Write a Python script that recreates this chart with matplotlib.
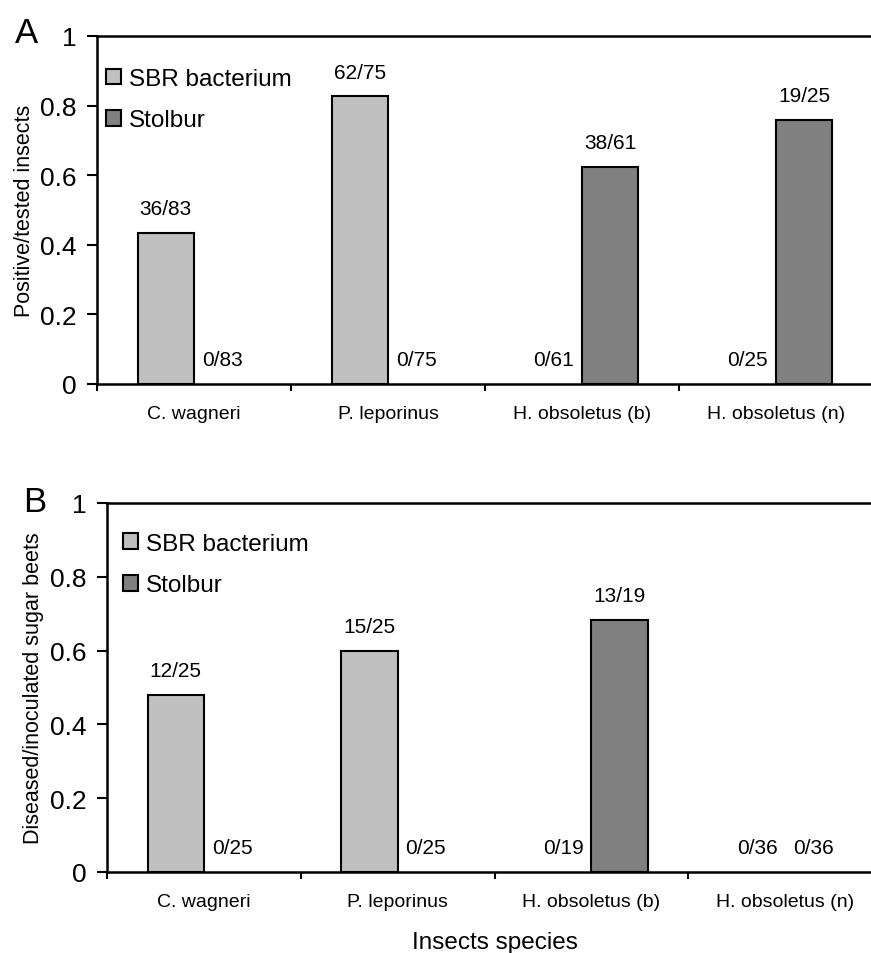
import numpy as np
import matplotlib
matplotlib.use("Agg")
import matplotlib.pyplot as plt
from matplotlib.patches import Patch

plt.rcParams['font.family'] = ['Liberation Sans', 'DejaVu Sans']

categories = ['C. wagneri', 'P. leporinus', 'H. obsoletus (b)', 'H. obsoletus (n)']

# panel A: positive / tested insects
a_tested = [83, 75, 61, 25]
a_sbr_pos = [36, 62, 0, 0]
a_stol_pos = [0, 0, 38, 19]

# panel B: diseased / inoculated sugar beets
b_inoculated = [25, 25, 19, 36]
b_sbr_pos = [12, 15, 0, 0]
b_stol_pos = [0, 0, 13, 0]

yticks = [0, 0.2, 0.4, 0.6, 0.8, 1]
ytick_labels = ['0', '0.2', '0.4', '0.6', '0.8', '1']

sbr_color = '#c0c0c0'
stol_color = '#808080'
width = 0.29

fig = plt.figure(figsize=(8.71, 9.54), dpi=100)
fig.patch.set_facecolor('white')


def draw_panel(ax, sbr_pos, stol_pos, totals, ylabel, legend_anchor):
    x = np.arange(len(categories))
    sbr = np.array(sbr_pos) / np.array(totals)
    stol = np.array(stol_pos) / np.array(totals)
    # zero-height bars get no outline, like the original
    ax.bar(x - width / 2, sbr, width, color=sbr_color,
           edgecolor=['black' if v > 0 else 'none' for v in sbr], linewidth=1.5, zorder=3)
    ax.bar(x + width / 2, stol, width, color=stol_color,
           edgecolor=['black' if v > 0 else 'none' for v in stol], linewidth=1.5, zorder=3)

    for xi, h, p, n in zip(x - width / 2, sbr, sbr_pos, totals):
        ax.annotate(f'{p}/{n}', (xi, h), xytext=(0, 13.5), textcoords='offset points',
                    ha='center', va='baseline', fontsize=15)
    for xi, h, p, n in zip(x + width / 2, stol, stol_pos, totals):
        ax.annotate(f'{p}/{n}', (xi, h), xytext=(0, 13.5), textcoords='offset points',
                    ha='center', va='baseline', fontsize=15)

    ax.set_xlim(-0.5, len(categories) - 0.5)
    ax.set_ylim(0, 1)
    ax.set_yticks(yticks)
    ax.set_yticklabels(ytick_labels, fontsize=19)
    ax.tick_params(axis='y', direction='out', length=7, width=1.5, pad=8)

    ax.set_xticks(x)
    ax.set_xticklabels(categories, fontsize=14)
    ax.tick_params(axis='x', which='major', length=0, pad=15)
    ax.set_xticks(np.arange(len(categories) + 1) - 0.5, minor=True)
    ax.tick_params(axis='x', which='minor', direction='out', length=5, width=1.5)

    for s in ax.spines.values():
        s.set_linewidth(1.8)

    ax.set_ylabel(ylabel, fontsize=15.5)

    handles = [Patch(facecolor=sbr_color, edgecolor='black', linewidth=1.5, label='SBR bacterium'),
               Patch(facecolor=stol_color, edgecolor='black', linewidth=1.5, label='Stolbur')]
    ax.legend(handles=handles, loc='upper left', bbox_to_anchor=legend_anchor, frameon=False,
              fontsize=17.5, handlelength=0.62, handleheight=0.62, handletextpad=0.3,
              labelspacing=0.8, borderpad=0, borderaxespad=0)


ax_a = fig.add_axes([97 / 871, 1 - 385 / 954, 776 / 871, 348 / 954])
draw_panel(ax_a, a_sbr_pos, a_stol_pos, a_tested, 'Positive/tested insects', (0.012, 0.908))
ax_a.yaxis.set_label_coords(-0.080, 0.5)
fig.text(15 / 871, 1 - 43 / 954, 'A', fontsize=25, ha='left', va='baseline')

ax_b = fig.add_axes([107 / 871, 1 - 873 / 954, 775 / 871, 369 / 954])
draw_panel(ax_b, b_sbr_pos, b_stol_pos, b_inoculated, 'Diseased/inoculated sugar beets', (0.021, 0.919))
ax_b.yaxis.set_label_coords(-0.081, 0.5)
ax_b.set_xlabel('Insects species', fontsize=17.5, labelpad=15)
fig.text(23 / 871, 1 - 512 / 954, 'B', fontsize=25, ha='left', va='baseline')

fig.savefig('out.png', dpi=100, facecolor='white')
